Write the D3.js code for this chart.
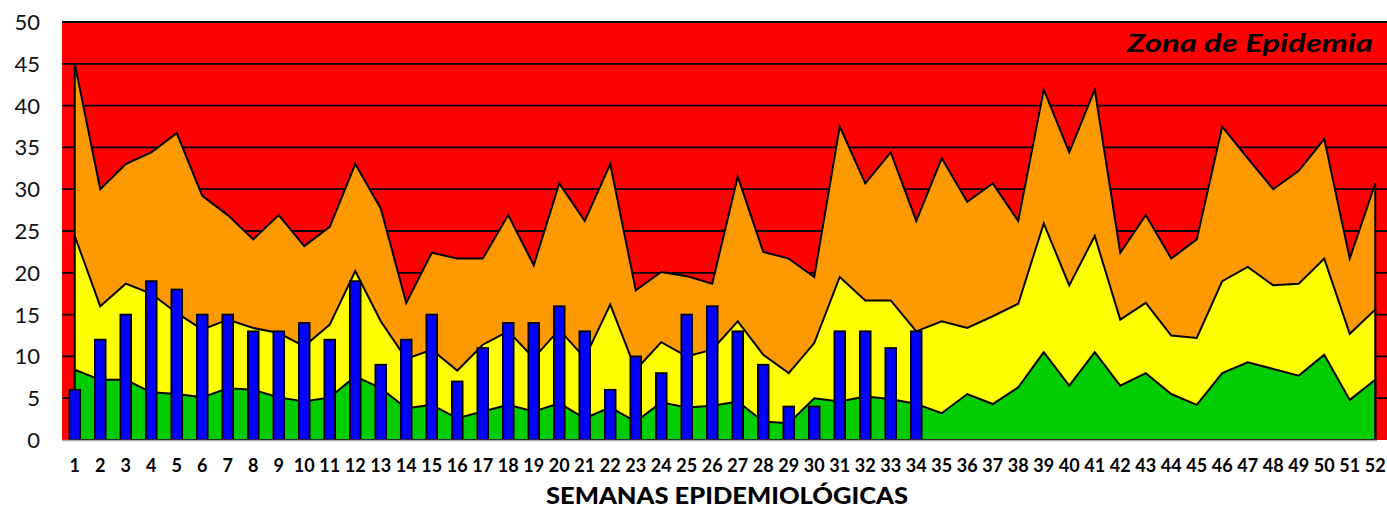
<!DOCTYPE html>
<html>
<head>
<meta charset="utf-8">
<script src="https://cdn.jsdelivr.net/npm/d3@7"></script>
<style>
  html, body { margin: 0; padding: 0; background: #fff; }
  svg { display: block; }
</style>
</head>
<body>
<svg id="chart" width="1387" height="511"></svg>
<script>
// ---- DATA ----
const weeks = d3.range(1, 53);
// upper limit of success zone (green)
const exito = [8.4,7.2,7.2,5.7,5.5,5.1,6.2,6.0,5.1,4.6,5.1,7.6,6.2,3.8,4.2,2.6,3.4,4.2,3.4,4.4,2.6,3.9,2.2,4.5,3.9,4.1,4.6,2.2,2.0,5.0,4.6,5.2,4.9,4.3,3.2,5.5,4.3,6.3,10.5,6.5,10.5,6.5,8.0,5.5,4.2,8.0,9.3,8.5,7.7,10.2,4.8,7.2];
// upper limit of security zone (yellow)
const seguridad = [24.4,16.0,18.7,17.5,15.2,13.2,14.4,13.4,12.8,11.2,13.8,20.2,14.2,9.7,10.8,8.3,11.4,13.0,9.8,13.2,9.8,16.2,8.4,11.7,10.0,10.8,14.2,10.2,8.0,11.6,19.5,16.7,16.7,13.0,14.2,13.4,14.8,16.3,25.9,18.5,24.4,14.4,16.4,12.5,12.2,19.0,20.7,18.5,18.7,21.7,12.7,15.6];
// upper limit of alert zone (orange)
const alerta = [45.0,30.0,33.0,34.4,36.7,29.2,26.9,24.0,26.9,23.2,25.5,33.0,27.7,16.4,22.4,21.7,21.7,26.9,20.9,30.7,26.2,33.0,17.9,20.1,19.6,18.7,31.5,22.5,21.7,19.5,37.5,30.7,34.4,26.2,33.7,28.5,30.7,26.2,41.9,34.4,41.9,22.4,26.9,21.7,24.0,37.5,33.7,30.0,32.2,36.0,21.7,30.7];
// observed cases (weeks 1-34)
const casos = [6,12,15,19,18,15,15,13,13,14,12,19,9,12,15,7,11,14,14,16,13,6,10,8,15,16,13,9,4,4,13,13,11,13];
const yTicks = [0,5,10,15,20,25,30,35,40,45,50];
const xTitle = "SEMANAS EPIDEMIOLÓGICAS";
const zoneLabel = "Zona de Epidemia";

// ---- LAYOUT ----
const svg = d3.select("#chart");
const pL = 62, pR = 1388, pT = 22, pB = 440;

const x = d3.scaleBand().domain(weeks).range([pL, pR]).padding(0);
const cx = d => x(d) + x.bandwidth() / 2;
const xBar = d3.scaleBand().domain(weeks).range([pL, pR]).paddingInner(0.58).paddingOuter(0.29);
const y = d3.scaleLinear().domain([0, 50]).range([pB, pT]);

// background (epidemic zone)
svg.append("rect").attr("x", pL).attr("y", pT)
  .attr("width", pR - pL).attr("height", pB - pT)
  .attr("fill", "#ff0000");

// gridlines
svg.append("g").selectAll("line").data(yTicks.filter(t => t > 0)).join("line")
  .attr("x1", pL).attr("x2", pR)
  .attr("y1", d => y(d)).attr("y2", d => y(d))
  .attr("stroke", "#000").attr("stroke-width", 1.8);

// areas
const makeArea = vals => d3.area()
  .x((d, i) => cx(weeks[i]))
  .y0(y(0)).y1(d => y(d))(vals);

const layers = [
  { vals: alerta, color: "#ff9900" },
  { vals: seguridad, color: "#ffff00" },
  { vals: exito, color: "#00cc00" }
];
const areaG = svg.append("g");
layers.forEach(l => {
  areaG.append("path").attr("d", makeArea(l.vals))
    .attr("fill", l.color).attr("stroke", "#000")
    .attr("stroke-width", 2).attr("stroke-linejoin", "miter");
});

// bars
svg.append("g").selectAll("rect").data(casos).join("rect")
  .attr("x", (d, i) => xBar(weeks[i]))
  .attr("width", xBar.bandwidth())
  .attr("y", d => y(d))
  .attr("height", d => y(0) - y(d))
  .attr("fill", "#0000ff").attr("stroke", "#000").attr("stroke-width", 1.8);

// bottom axis line
svg.append("line").attr("x1", pL).attr("x2", 1377)
  .attr("y1", pB + 0.5).attr("y2", pB + 0.5)
  .attr("stroke", "#aaaaaa").attr("stroke-width", 1.5);

// y tick labels
svg.append("g").selectAll("text").data(yTicks).join("text")
  .attr("x", 40).attr("y", d => y(d))
  .attr("dy", "0.36em")
  .attr("text-anchor", "end")
  .attr("font-family", "Lato, 'DejaVu Sans', sans-serif")
  .attr("font-size", 22)
  .attr("fill", "#111")
  .text(d => d);

// x tick labels
svg.append("g").selectAll("text").data(weeks).join("text")
  .attr("x", d => cx(d)).attr("y", 472)
  .attr("text-anchor", "middle")
  .attr("font-family", "Lato, 'DejaVu Sans', sans-serif")
  .attr("font-weight", "bold")
  .attr("font-size", 18)
  .attr("fill", "#000")
  .text(d => d);

// x title
svg.append("text")
  .attr("x", 727).attr("y", 504)
  .attr("text-anchor", "middle")
  .attr("font-family", "Lato, 'DejaVu Sans', sans-serif")
  .attr("font-weight", 900)
  .attr("font-size", 23)
  .attr("textLength", 362).attr("lengthAdjust", "spacingAndGlyphs")
  .attr("fill", "#000")
  .text(xTitle);

// zone label
svg.append("text")
  .attr("x", 1373).attr("y", 52)
  .attr("text-anchor", "end")
  .attr("font-family", "Lato, 'DejaVu Sans', sans-serif")
  .attr("font-weight", "bold")
  .attr("font-style", "italic")
  .attr("font-size", 25)
  .attr("textLength", 246).attr("lengthAdjust", "spacingAndGlyphs")
  .attr("fill", "#000")
  .text(zoneLabel);
</script>
</body>
</html>
